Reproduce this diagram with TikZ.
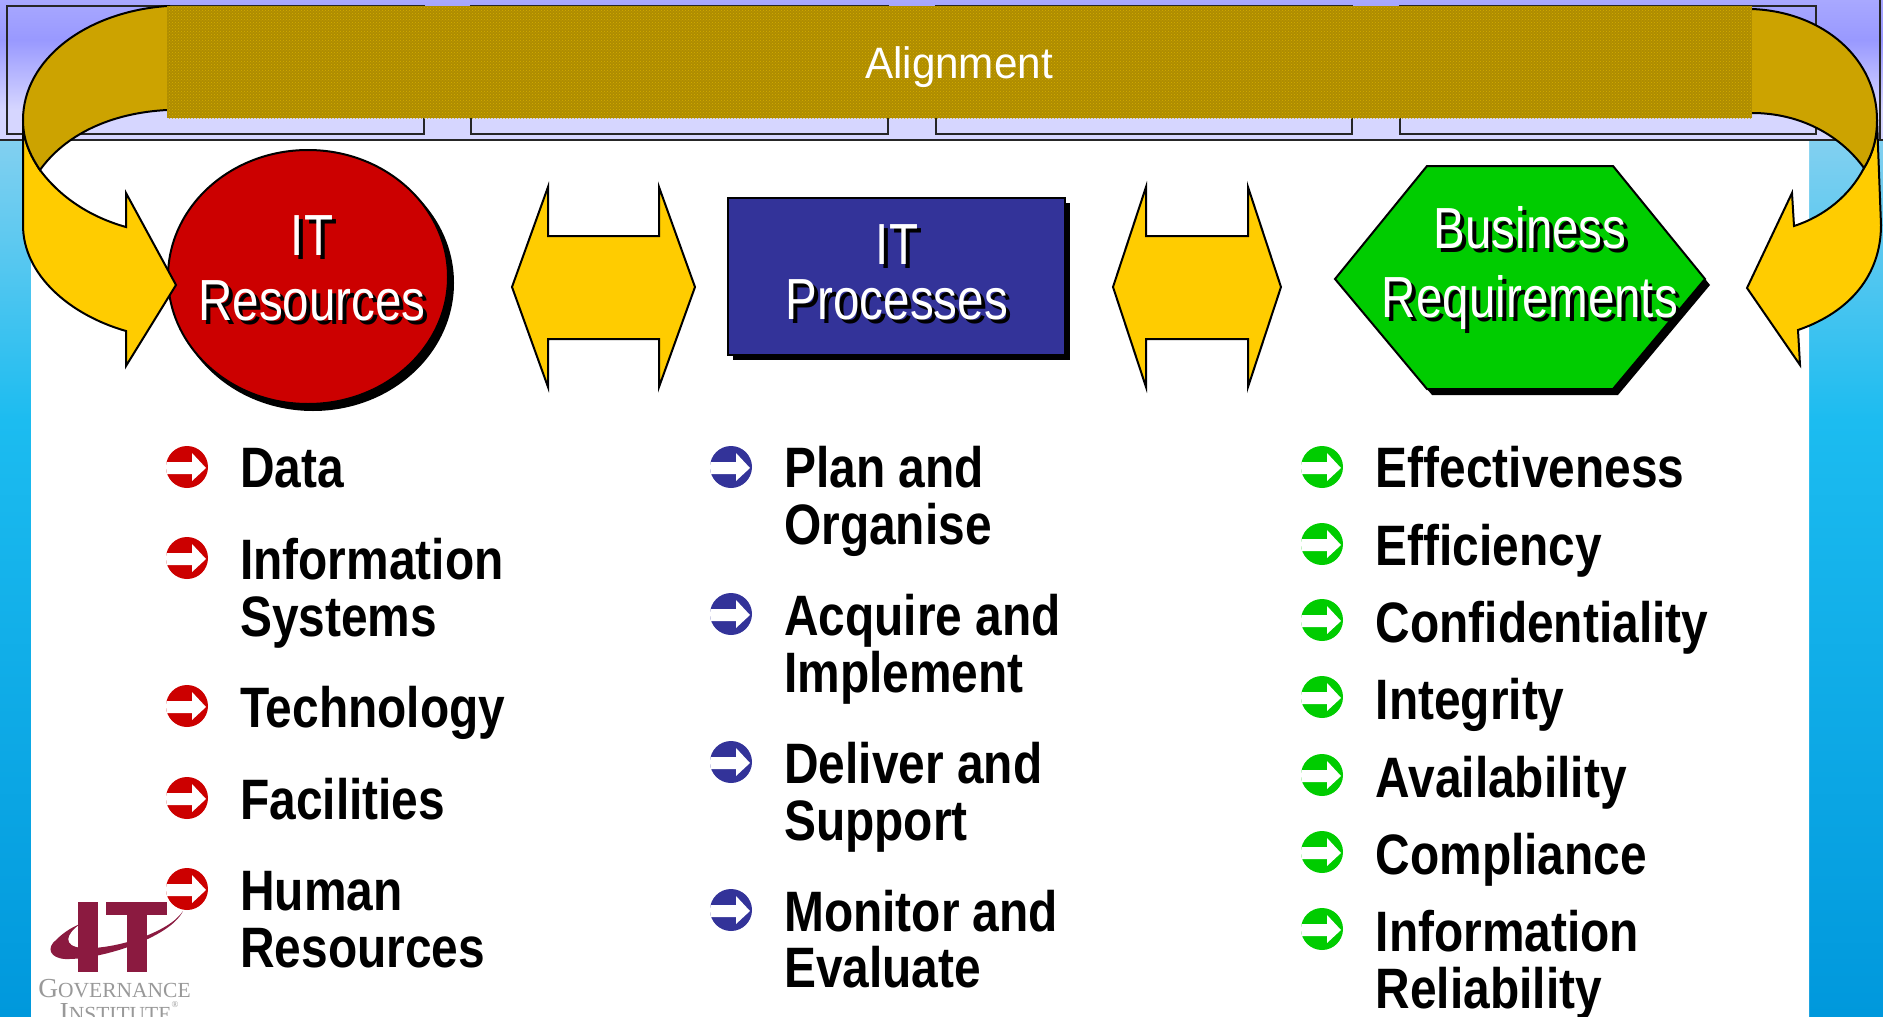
\documentclass[tikz,border=0pt]{standalone}
\usepackage{fontspec}
\usetikzlibrary{patterns}
\setmainfont{Liberation Sans}
\newfontfamily\headfont[FakeStretch=0.82]{Liberation Sans}
\newfontfamily\bandfont[FakeStretch=0.96]{Liberation Sans}
\newfontfamily\itemfont[FakeStretch=0.84]{Liberation Sans Bold}
\newfontfamily\logofont{Liberation Serif}
\definecolor{bandgold}{HTML}{AE8C00}
\definecolor{dotgold}{HTML}{D4AC00}
\definecolor{darkgold}{HTML}{CCA300}
\definecolor{lightgold}{HTML}{FFCC00}
\definecolor{itred}{HTML}{CC0000}
\definecolor{itblue}{HTML}{333399}
\definecolor{itgreen}{HTML}{00CC00}
\definecolor{logored}{HTML}{8B1A40}
\definecolor{bandtop}{HTML}{A8A8FF}
\definecolor{bandmid}{HTML}{9999FF}
\definecolor{bandlow}{HTML}{D6D6FF}
\definecolor{sidetop}{HTML}{82D0F0}
\definecolor{sidemid}{HTML}{1CBCF0}
\definecolor{sidelow}{HTML}{0098DC}
\newcommand{\shadowlabel}[3]{%
  \node[headshadow] (#1Shadow) at ([shift={(4,4)}]#2) {#3};
  \node[headlabel] (#1) at (#2) {#3};
}
\begin{document}
\begin{tikzpicture}[
    x=1pt, y=-1pt,
    outlined/.style={draw=black, line width=2pt},
    gold/.style={outlined, fill=lightgold},
    dgold/.style={outlined, fill=darkgold},
    offbox/.style={draw=black!85, line width=1.6pt},
    headlabel/.style={align=center, text=white, inner sep=0pt, font=\headfont\fontsize{58}{62}\selectfont},
    headshadow/.style={headlabel, text=black},
    item/.style={anchor=north west, align=left, inner sep=0pt, font=\itemfont\fontsize{57}{56.5}\selectfont,
                 execute at begin node={\rule{0pt}{45pt}}},
    bullet/.style={circle, fill=#1, minimum size=42pt, inner sep=0pt,
                 path picture={\fill[white] (-22,-5) -- (5,-5) -- (5,-14) -- (19,1) -- (5,14) -- (5,7) -- (-22,7) -- cycle;}},
]
\clip (0,0) rectangle (1883,1017);
\useasboundingbox (0,0) rectangle (1883,1017);

% Background
\shade[top color=sidetop, bottom color=sidemid] (0,140) rectangle (1883,420);
\shade[top color=sidemid, bottom color=sidelow] (0,420) rectangle (1883,1017);
\fill[white, rounded corners=38pt] (31,100) -- (31,1060) -- (1809,1060) -- (1809,100) -- cycle;
\shade[top color=bandtop, bottom color=bandmid] (0,0) rectangle (1883,40);
\shade[top color=bandmid, bottom color=bandlow] (0,40) rectangle (1883,110);
\fill[bandlow] (0,110) rectangle (1883,140);

% Boxes behind the band
\draw[offbox] (7,6) rectangle (424,134);
\draw[offbox] (471,6) rectangle (888,134);
\draw[offbox] (936,6) rectangle (1352,134);
\draw[offbox] (1400,6) rectangle (1816,134);
\draw[offbox] (0,140) -- (1883,140);
\draw[offbox] (1880,0) -- (1880,140);

% Shapes
\draw[outlined, fill=black] (313,283) ellipse [x radius=140, y radius=127];
\draw[outlined, fill=itred] (308,277) ellipse [x radius=140, y radius=127];
\fill[black] (733,203) rectangle (1070,360);
\draw[outlined, fill=itblue] (728,198) rectangle (1065,355);
\fill[black] (1432,172) -- (1618,172) -- (1710,285) -- (1618,395) -- (1432,395) -- (1340,285) -- cycle;
\draw[outlined, fill=itgreen] (1427,166) -- (1613,166) -- (1705,279) -- (1613,389) -- (1427,389) -- (1335,279) -- cycle;

% Double arrows
\draw[gold] (512,287) -- (548,187) -- (548,236) -- (659,236) -- (659,187) -- (695,287) -- (659,387) -- (659,339) -- (548,339) -- (548,387) -- cycle;
\draw[gold] (1113,287) -- (1146,187) -- (1146,236) -- (1248,236) -- (1248,187) -- (1281,287) -- (1248,387) -- (1248,339) -- (1146,339) -- (1146,387) -- cycle;

% Curved arrows
\draw[gold] (23,120) -- (23,225) .. controls (23,275) and (70,315) .. (126,331) -- (126,366) -- (176,285) -- (126,193) -- (126,227) .. controls (90,217) and (60,197) .. (40,170) .. controls (30,155) and (23,140) .. cycle;
\draw[dgold] (170,6) -- (167,6) .. controls (85,12) and (23,60) .. (23,120) .. controls (23,140) and (30,155) .. (40,170) .. controls (65,135) and (110,113) .. (167,110) -- (170,110);
\draw[gold] (1877,120) -- (1881,225) .. controls (1881,275) and (1850,312) .. (1798,330) -- (1800,365) -- (1747,288) -- (1792,193) -- (1794,226) .. controls (1825,216) and (1850,195) .. (1864,168) .. controls (1872,155) and (1877,140) .. cycle;
\draw[dgold] (1749,9) -- (1752,9) .. controls (1825,12) and (1877,60) .. (1877,120) .. controls (1877,140) and (1872,155) .. (1864,168) .. controls (1840,135) and (1800,113) .. (1752,113) -- (1749,113);

% Alignment band
\fill[bandgold] (167,6) rectangle (1752,118);
\fill[pattern=crosshatch dots, pattern color=dotgold] (167,6) rectangle (1752,118);
\node[text=white, inner sep=0pt, anchor=base, font=\bandfont\fontsize{44}{44}\selectfont] (Alignment) at (959,78) {Alignment};

% Shape labels
\shadowlabel{Resources}{312,268}{IT\\[3pt]Resources}
\shadowlabel{Processes}{897,272}{IT\\[-7pt]Processes}
\shadowlabel{Requirements}{1530,268}{Business\\[7pt]Requirements}

% IT resources column
\node[bullet=itred] (bData) at (187,467) {};
\node[bullet=itred] (bInfo) at (187,558) {};
\node[bullet=itred] (bTech) at (187,706) {};
\node[bullet=itred] (bFac) at (187,798) {};
\node[bullet=itred] (bHuman) at (187,889) {};
\node[item] (Data) at (240,442) {Data};
\node[item] (Info) at (240,538) {Information\\Systems};
\node[item] (Tech) at (240,682) {Technology};
\node[item] (Fac) at (240,774) {Facilities};
\node[item] (Human) at (240,871.5) {Human\\Resources};

% IT processes column
\node[bullet=itblue] (bPlan) at (731,467) {};
\node[bullet=itblue] (bAcq) at (731,614) {};
\node[bullet=itblue] (bDel) at (731,762) {};
\node[bullet=itblue] (bMon) at (731,910) {};
\node[item] (Plan) at (784,446) {Plan and\\Organise};
\node[item] (Acq) at (784,594) {Acquire and\\Implement};
\node[item] (Del) at (784,742) {Deliver and\\Support};
\node[item] (Mon) at (784,889.5) {Monitor and\\Evaluate};

% Business requirements column
\node[bullet=itgreen] (bEff) at (1322,467) {};
\node[bullet=itgreen] (bEffi) at (1322,544) {};
\node[bullet=itgreen] (bConf) at (1322,620) {};
\node[bullet=itgreen] (bInt) at (1322,697) {};
\node[bullet=itgreen] (bAva) at (1322,775) {};
\node[bullet=itgreen] (bComp) at (1322,852) {};
\node[bullet=itgreen] (bRel) at (1322,929) {};
\node[item] (Eff) at (1375.5,442) {Effectiveness};
\node[item] (Effi) at (1375.5,520) {Efficiency};
\node[item] (Conf) at (1375.5,597) {Confidentiality};
\node[item] (Int) at (1375.5,674) {Integrity};
\node[item] (Ava) at (1375.5,752) {Availability};
\node[item] (Comp) at (1375.5,829) {Compliance};
\node[item] (Rel) at (1375.5,910) {Information\\Reliability};

% Logo
\fill[logored] (78,902) rectangle (98,972);
\fill[logored] (106,902) rectangle (167,915);
\fill[logored] (127,902) rectangle (147,972);
\fill[logored] (183,911) .. controls (170,938) and (100,960) .. (65,959) .. controls (50,958) and (46,948) .. (56,940) .. controls (62,934) and (70,928) .. (80,924) .. controls (66,934) and (62,946) .. (82,948) .. controls (115,950) and (170,932) .. cycle;
\node[text=black!40, inner sep=0pt, anchor=base, font=\logofont] (Governance) at (114.5,997) {\fontsize{27.5}{27}\selectfont G\fontsize{21.5}{21}\selectfont OVERNANCE};
\node[text=black!40, inner sep=0pt, anchor=base, font=\logofont] (Institute) at (119,1021) {\fontsize{27.5}{27}\selectfont I\fontsize{21.5}{21}\selectfont NSTITUTE\fontsize{9}{9}\selectfont\raisebox{14pt}{®}};
\end{tikzpicture}
\end{document}
